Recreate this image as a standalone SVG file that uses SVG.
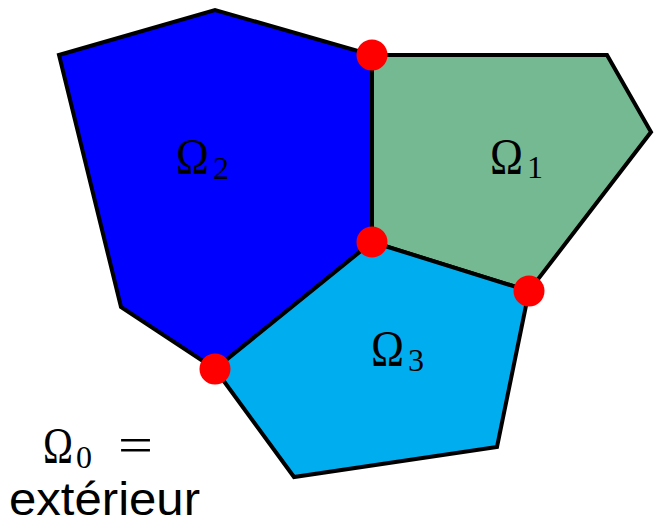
<svg xmlns="http://www.w3.org/2000/svg" width="654" height="524" viewBox="0 0 654 524">
<style>
.reg{stroke:#000;stroke-width:4;stroke-linejoin:miter}
.om{font-family:"Liberation Serif","DejaVu Serif",serif;font-size:50px;fill:#000}
.sub{font-family:"Liberation Serif","DejaVu Serif",serif;font-size:32px;fill:#000}
.pt{fill:#FF0000}
</style>
<rect width="654" height="524" fill="#fff"/>
<g id="omega2">
<polygon class="reg" fill="#0000FF" points="59,55 215,10 372,55 372,242 215,369 121,307"/>
<text class="om" x="176" y="173" textLength="33" lengthAdjust="spacingAndGlyphs">Ω</text><text class="sub" x="213" y="179">2</text>
</g>
<g id="omega1">
<polygon class="reg" fill="#75B992" points="372,55 607,55 651,132 529,291 372,242"/>
<text class="om" x="490" y="173" textLength="33" lengthAdjust="spacingAndGlyphs">Ω</text><text class="sub" x="527" y="178">1</text>
</g>
<g id="omega3">
<polygon class="reg" fill="#00AEEF" points="372,242 529,291 497,447 294,477 215,369"/>
<text class="om" x="371" y="365" textLength="33" lengthAdjust="spacingAndGlyphs">Ω</text><text class="sub" x="408" y="371">3</text>
</g>
<g id="points">
<circle class="pt" cx="372" cy="55" r="15.5"/>
<circle class="pt" cx="372" cy="242" r="15.5"/>
<circle class="pt" cx="529" cy="291" r="15.5"/>
<circle class="pt" cx="215" cy="369" r="15.5"/>
</g>
<g id="omega0">
<text class="om" x="43" y="462" textLength="30" lengthAdjust="spacingAndGlyphs">Ω</text><text class="sub" x="76" y="468">0</text>
<text class="om" x="118" y="462" textLength="35" lengthAdjust="spacingAndGlyphs">=</text>
<text x="9" y="515" font-family="'Liberation Sans',Arial,sans-serif" font-size="46" textLength="191" lengthAdjust="spacingAndGlyphs" fill="#000">extérieur</text>
</g>
</svg>
